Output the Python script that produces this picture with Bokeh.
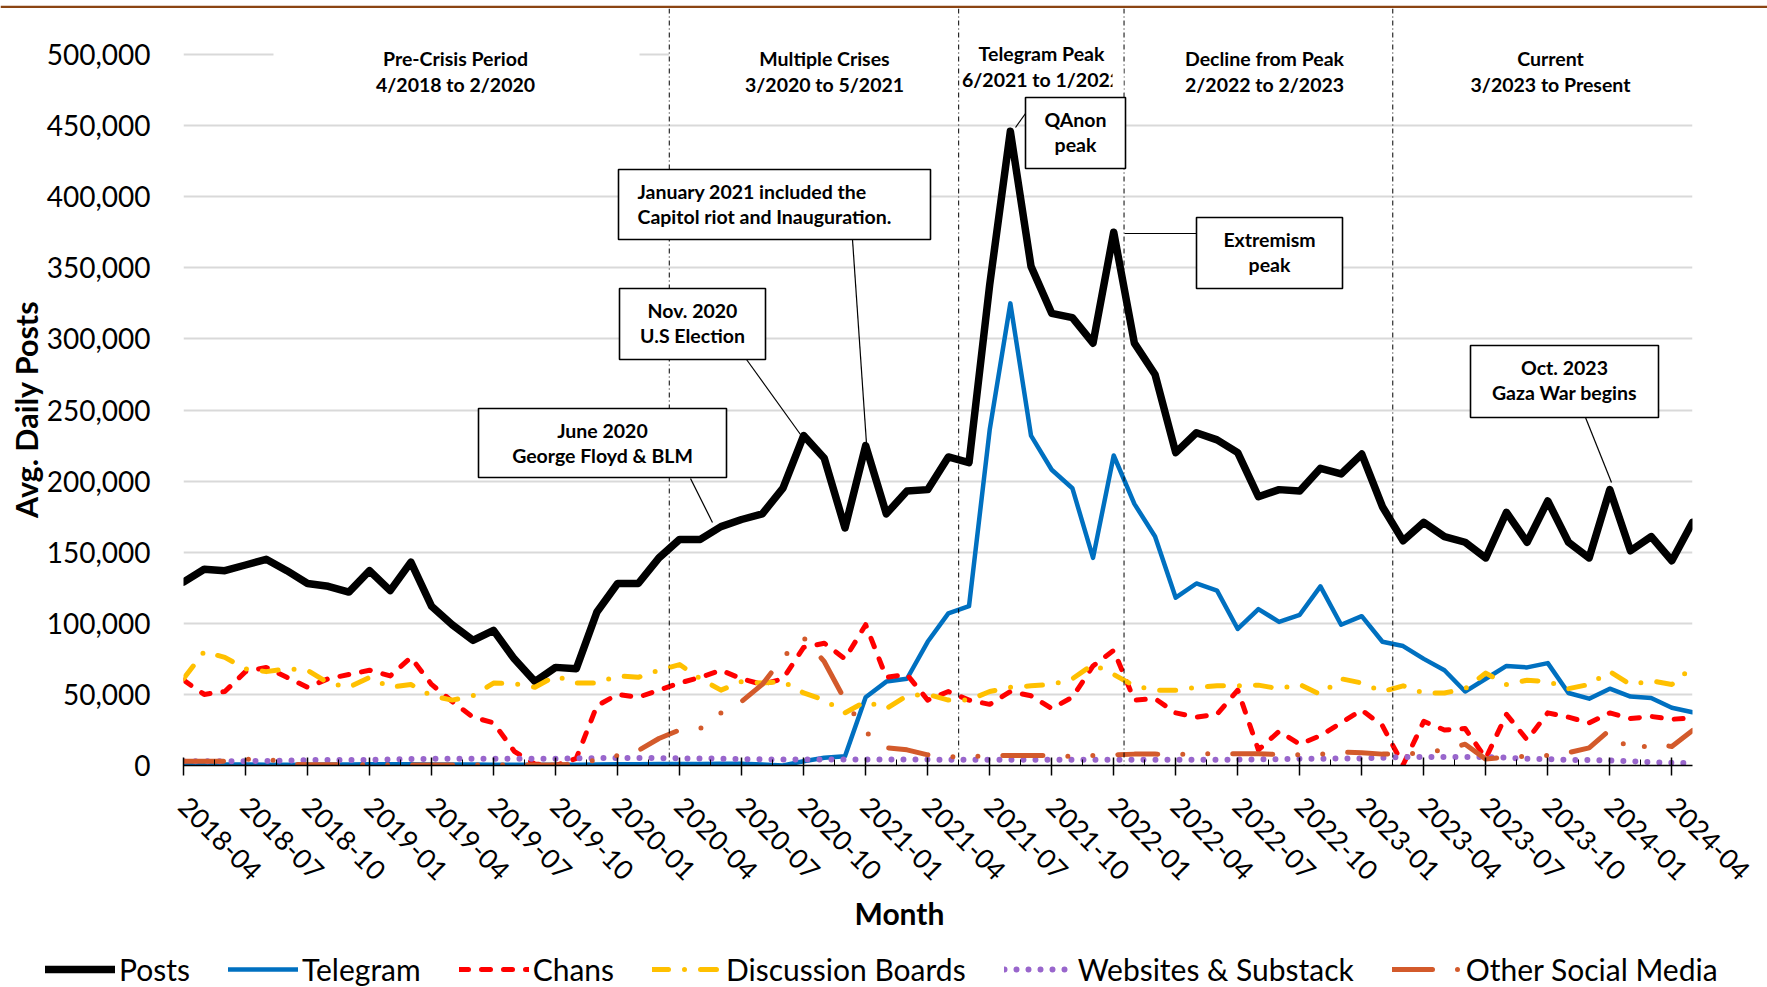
from math import pi
import pandas as pd
from bokeh.plotting import figure
from bokeh.layouts import column
from bokeh.models import (ColumnDataSource, FixedTicker, NumeralTickFormatter, Span, Title,
                          BoxAnnotation, Label, Legend, LegendItem, Range1d)
from bokeh.embed import file_html
from bokeh.resources import INLINE

# ---------------- data ----------------
months = list(pd.date_range("2018-04-01", periods=74, freq="MS").strftime("%Y-%m"))
tick_labels = ["2018-04", "2018-07", "2018-10", "2019-01", "2019-04", "2019-07", "2019-10",
               "2020-01", "2020-04", "2020-07", "2020-10", "2021-01", "2021-04", "2021-07",
               "2021-10", "2022-01", "2022-04", "2022-07", "2022-10", "2023-01", "2023-04",
               "2023-07", "2023-10", "2024-01", "2024-04"]
y_ticks = [0, 50000, 100000, 150000, 200000, 250000, 300000, 350000, 400000, 450000, 500000]

# values in thousands of posts per day
posts_k = [129, 138, 137, 141, 145, 137, 128, 126, 122, 137,
           123, 143, 112, 99, 88, 95, 75, 59, 69, 68,
           108, 128, 128, 146, 159, 159, 168, 173, 177, 195,
           232, 216, 167, 225, 177, 193, 194, 217, 213, 338,
           446, 351, 318, 315, 297, 375, 297, 275, 220, 234,
           229, 220, 189, 194, 193, 209, 205, 219, 182, 158,
           171, 161, 157, 146, 178, 157, 186, 157, 146, 194,
           151, 161, 144, 171]
telegram_k = [0.8, 0.8, 0.7, 0.7, 0.6, 0.6, 0.6, 0.7, 0.7, 0.8,
              0.8, 0.8, 0.7, 0.7, 0.7, 0.6, 0.6, 0.5, 0.5, 0.6,
              0.7, 0.8, 0.9, 1.0, 1.0, 1.1, 1.2, 1.2, 0.7, 0.0,
              3.0, 5.5, 6.5, 48, 59, 61, 87, 107, 112, 236,
              325, 232, 208, 195, 146, 218, 184, 161, 118, 128,
              123, 96, 110, 101, 106, 126, 99, 105, 87, 84,
              75, 67, 52, 61, 70, 69, 72, 51, 47, 54,
              48.5, 47.5, 40.6, 37.5]
chans_k = [60, 50, 52, 66, 69, 62, 55, 61, 64, 67,
           63, 76, 57, 45, 34, 30, 10, 1, 0, 5,
           42, 50, 48, 53, 58, 62, 67, 61, 57, 61,
           83, 86, 75, 99, 62, 64, 46, 52, 46, 43,
           52, 49, 40, 48, 70, 81, 46, 47, 37, 34,
           36, 53, 11, 24, 15, 21, 30, 39, 28, 0.5,
           31, 25, 26, 5, 36, 18, 37, 34, 30, 37,
           33, 34.5, 32.5, 33.5]
discussion_k = [61, 80, 76, 68, 66, 68, 67, 58, 55, 62,
                55, 57, 49, 46, 49, 58, 57.5, 55, 63, 58,
                58, 63, 62, 67, 71, 61, 53, 59, 58, 59,
                51, 46, 37, 45, 40, 49, 50, 46, 46, 52,
                55, 56, 57, 61, 71, 64, 56, 53, 53, 55,
                56, 56, 56.5, 54, 57, 50, 61, 58, 52, 56,
                51, 51, 54, 65, 57, 60, 59, 54, 57, 66,
                57, 59.5, 57, 69]
websites_k = [3, 3, 3, 3, 3.2, 3.5, 3.8, 3.8, 3.8, 4,
              4.2, 4.5, 4.7, 4.7, 4.7, 4.7, 4.7, 4.8, 4.8, 5,
              5.2, 5.2, 5.2, 5.2, 5, 5, 4.8, 4.5, 4.3, 4.2,
              4.2, 4.2, 4.2, 4.2, 4.2, 4.2, 4.2, 4, 4, 4,
              4, 4, 4, 4, 4, 4, 4, 4, 4, 4,
              4, 4.2, 4.3, 4.5, 4.7, 4.8, 5, 5, 5.5, 5.9,
              5.9, 5.9, 5.9, 5.9, 5.5, 4.7, 4.5, 4, 3.8, 3.5,
              3, 2.3, 2, 1.6]
other_k = [3, 3, 3, 4.2, 5, 1, 0.5, 0.5, 0.5, 0.5,
           0.3, 0.3, 0.3, 0.3, 0.3, 0.3, 0.3, 0.3, 0.3, 1,
           4, 7, 10.5, 19, 25, 26, 37, 45, 57, 76,
           90, 73, 46, 23.5, 12.5, 11, 7.5, 6.3, 6, 7,
           7, 7, 7, 6.3, 7, 7.5, 8, 8, 7.7, 8.5,
           8.2, 8.2, 8.2, 7.7, 7.5, 8, 9.4, 9, 8, 8,
           9, 11, 15, 4.5, 6, 6.5, 7, 9, 12.4, 25,
           10, 15, 13.4, 24.6]

series_names = ["Posts", "Telegram", "Chans", "Discussion Boards",
                "Websites & Substack", "Other Social Media"]
period_titles = ["Pre-Crisis Period", "Multiple Crises", "Telegram Peak",
                 "Decline from Peak", "Current"]
period_ranges = ["4/2018 to 2/2020", "3/2020 to 5/2021", "6/2021 to 1/2022",
                 "2/2022 to 2/2023", "3/2023 to Present"]
period_bounds = [23.5, 37.5, 45.5, 58.5]   # boundaries between months (index units)
callout_texts = [("June 2020", "George Floyd & BLM"),
                 ("Nov. 2020", "U.S Election"),
                 ("January 2021 included the", "Capitol riot and Inauguration."),
                 ("QAnon", "peak"),
                 ("Extremism", "peak"),
                 ("Oct. 2023", "Gaza War begins")]

# ---------------- layout (page pixels) ----------------
PAGE_W, PAGE_H = 1767, 987
RULE_H = 8            # decorative double rule at the very top
LEG_H = 42            # legend strip at the bottom
MAIN_H = PAGE_H - RULE_H - LEG_H
OY = RULE_H           # page y of main canvas
FL, FR, FT, FB = 183, 1692, OY, 765   # plot frame in page pixels
PX50K = 71.1
N = len(months)
x_end = N - 1
y_top = 50000 * (FB - FT) / PX50K
FONT = "Lato"
COLORS = ["#000000", "#0070C0", "#FF0000", "#FFC000", "#9966CC", "#D35A2B"]
WIDTHS = [7.5, 4.5, 5, 5, 6, 5]
DASHES = ["solid", "solid", "9 13", "16 16 0 16", "0 12", "40 25 0 25 0 25"]
COLS = ["posts", "telegram", "chans", "discussion", "websites", "other"]


def X(px):
    return (px - FL) / (FR - FL) * x_end


def Y(py):
    return (FB - py) / PX50K * 50000


src = ColumnDataSource(dict(
    x=list(range(N)),
    posts=[v * 1000 for v in posts_k],
    telegram=[v * 1000 for v in telegram_k],
    chans=[v * 1000 for v in chans_k],
    discussion=[v * 1000 for v in discussion_k],
    websites=[v * 1000 for v in websites_k],
    other=[v * 1000 for v in other_k],
))

# ---------------- top rule ----------------
rule = figure(width=PAGE_W, height=RULE_H, x_range=Range1d(0, PAGE_W), y_range=Range1d(0, RULE_H),
              output_backend="svg", toolbar_location=None, title=None, min_border=0,
              x_axis_location=None, y_axis_location=None, frame_align=False)
rule.outline_line_color = None
rule.grid.visible = False
rule.quad(left=[0, 0], right=[PAGE_W, PAGE_W], bottom=[RULE_H - 4.2, RULE_H - 7.6],
          top=[RULE_H - 1.2, RULE_H - 5.3], fill_color=["#8B4513", "#A65A2E"], line_color=None)

# ---------------- main chart ----------------
p = figure(width=PAGE_W, height=MAIN_H, x_range=Range1d(0, x_end), y_range=Range1d(0, y_top),
           output_backend="svg", toolbar_location=None, title=None, frame_align=False,
           min_border_left=FL, min_border_right=PAGE_W - FR,
           min_border_top=FT - OY, min_border_bottom=(OY + MAIN_H) - FB)
p.outline_line_color = None
p.background_fill_color = "white"
p.border_fill_color = "white"

tick_pos = [months.index(t) for t in tick_labels]
minor_pos = [t + 1.5 for t in tick_pos[:-1]]
xa = p.xaxis[0]
xa.ticker = FixedTicker(ticks=tick_pos, minor_ticks=minor_pos)
xa.major_label_overrides = {t: lab for t, lab in zip(tick_pos, tick_labels)}
xa.major_label_orientation = -pi / 4
xa.major_label_text_font = FONT
xa.major_label_text_font_size = "27px"
xa.major_label_text_color = "black"
xa.major_label_standoff = 26
xa.axis_line_color = "black"
xa.axis_line_width = 1.5
xa.major_tick_in = 8
xa.major_tick_out = 10
xa.major_tick_line_color = "black"
xa.major_tick_line_width = 1.5
xa.minor_tick_in = 6
xa.minor_tick_out = 0
xa.minor_tick_line_color = "black"
xa.minor_tick_line_width = 1

ya = p.yaxis[0]
ya.ticker = FixedTicker(ticks=y_ticks)
ya.formatter = NumeralTickFormatter(format="0,0")
ya.axis_line_color = None
ya.major_tick_line_color = None
ya.minor_tick_line_color = None
ya.major_label_standoff = 27
ya.major_label_text_font = FONT
ya.major_label_text_font_size = "28px"
ya.major_label_text_color = "black"

p.xgrid.visible = False
p.ygrid.ticker = FixedTicker(ticks=y_ticks[1:-1])
p.ygrid.grid_line_color = "#D9D9D9"
p.ygrid.grid_line_width = 2

# top gridline only visible where not covered by the period text boxes
p.segment(x0=[X(183), X(639)], y0=[y_ticks[-1]] * 2, x1=[X(273), period_bounds[0]],
          y1=[y_ticks[-1]] * 2, line_color="#D9D9D9", line_width=2)

for col, color, lw, dash in zip(COLS, COLORS, WIDTHS, DASHES):
    p.line("x", col, source=src, line_color=color, line_width=lw, line_dash=dash,
           line_join="round", line_cap="round")

for b in period_bounds:
    p.add_layout(Span(location=b, dimension="height", line_color="black",
                      line_width=1, line_dash="5 3 1 3"))

period_cx = [455, 824, 1041, 1264, 1550]
period_y = [(58, 84), (58, 84), (53, 79), (58, 84), (58, 84)]
for t, rng, cx, (y1, y2) in zip(period_titles, period_ranges, period_cx, period_y):
    for txt, yy in ((t, y1), (rng, y2)):
        p.add_layout(Label(x=X(cx), y=Y(yy), text=txt, text_align="center",
                           text_baseline="middle", text_font=FONT, text_font_style="bold",
                           text_font_size="19.5px", text_color="black"))
# the "Telegram Peak" text box is cut off just before the next boundary
p.add_layout(BoxAnnotation(left=X(1112), right=X(1123), top=Y(66), bottom=Y(92),
                           fill_color="white", fill_alpha=1, line_color=None))

leaders = [((690, 478), (712, 522)), ((746, 359), (800, 434)), ((852, 239), (866, 443)),
           ((1025, 113), (1015, 127)), ((1124, 233), (1196, 233)), ((1585, 417), (1611, 482))]
p.segment(x0=[X(a[0]) for a, b in leaders], y0=[Y(a[1]) for a, b in leaders],
          x1=[X(b[0]) for a, b in leaders], y1=[Y(b[1]) for a, b in leaders],
          line_color="black", line_width=1.2)

boxes = [(478, 408, 726, 477), (619, 288, 765, 359), (618, 169, 930, 239),
         (1025, 97, 1125, 168), (1196, 217, 1342, 288), (1470, 345, 1658, 417)]
aligns = ["center", "center", "left", "center", "center", "center"]
for (l1, l2), (l, t, r, b), al in zip(callout_texts, boxes, aligns):
    p.add_layout(BoxAnnotation(left=X(l), right=X(r), top=Y(t), bottom=Y(b),
                               fill_color="white", fill_alpha=1, line_color="black",
                               line_alpha=1, line_width=1.6))
    tx = (l + r) / 2 if al == "center" else l + 19
    for txt, yy in ((l1, t + 22), (l2, t + 47)):
        p.add_layout(Label(x=X(tx), y=Y(yy), text=txt, text_align=al,
                           text_baseline="middle", text_font=FONT, text_font_style="bold",
                           text_font_size="19.5px", text_color="black"))

# axis titles in the side panels (offset acts as a margin with left alignment)
YT_LEN, MONTH_LEN = 215, 88        # rendered text lengths (px)
p.add_layout(Title(text="Avg. Daily Posts", align="left", offset=FB - (410 + YT_LEN / 2),
                   standoff=0, text_font=FONT, text_font_style="bold",
                   text_font_size="30.5px", text_color="black"), "left")
p.add_layout(Title(text="Month", align="left", offset=898 - MONTH_LEN / 2 - FL,
                   standoff=0, text_font=FONT, text_font_style="bold",
                   text_font_size="30px", text_color="black"), "below")

# ---------------- legend strip ----------------
lg = figure(width=PAGE_W, height=LEG_H, x_range=Range1d(0, x_end), y_range=Range1d(-2, -1),
            output_backend="svg", toolbar_location=None, title=None, min_border=0,
            x_axis_location=None, y_axis_location=None, frame_align=False)
lg.outline_line_color = None
lg.grid.visible = False
items = []
for name, col, color, lw, dash in zip(series_names, COLS, COLORS, WIDTHS, DASHES):
    r = lg.line("x", col, source=src, line_color=color, line_width=lw, line_dash=dash,
                line_join="round", line_cap="round")
    items.append(LegendItem(label=name, renderers=[r]))
legend = Legend(items=items, orientation="horizontal", location=(45, 0),
                glyph_width=70, glyph_height=20, label_standoff=4, spacing=38,
                padding=0, margin=0, border_line_color=None, background_fill_alpha=0,
                label_text_font=FONT, label_text_font_size="30px", label_text_color="black")
lg.add_layout(legend)

layout = column(rule, p, lg, spacing=0)
open("out.html", "w").write(file_html(layout, INLINE))
